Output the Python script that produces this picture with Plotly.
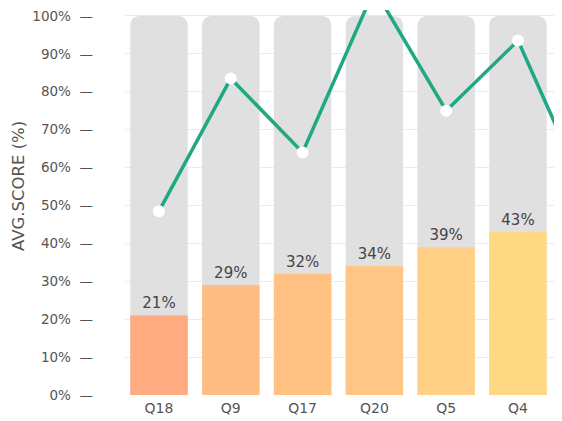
import plotly.graph_objects as go

categories = ["Q18", "Q9", "Q17", "Q20", "Q5", "Q4", "Q3"]
bar_values = [21, 29, 32, 34, 39, 43, 45]
line_values = [48.5, 83.5, 64, 107, 75, 93.5, 51]
bar_colors = ["#FFAA80", "#FFBD84", "#FFC283", "#FFC686", "#FFD085", "#FFD884", "#FFDA85"]
background_values = [100] * len(categories)
y_tick_vals = list(range(0, 101, 10))
y_tick_text = [f"{v}%" for v in y_tick_vals]
y_title = "AVG.SCORE (%)"

idx = list(range(len(categories)))
FONT = "DejaVu Sans"

fig = go.Figure()
fig.add_trace(go.Bar(
    x=idx, y=background_values, width=0.8,
    marker=dict(color="#E0E0E0", cornerradius=9, line=dict(width=0)),
    hoverinfo="skip", showlegend=False,
))
fig.add_trace(go.Bar(
    x=idx, y=bar_values, width=0.8,
    marker=dict(color=bar_colors, line=dict(width=0)),
    text=[f"{v}%" for v in bar_values], textposition="outside",
    textfont=dict(family=FONT, size=15, color="#444444"),
    cliponaxis=False, showlegend=False,
))
fig.add_trace(go.Scatter(
    x=idx, y=line_values, mode="lines+markers",
    line=dict(color="#1FA883", width=3.5),
    marker=dict(color="white", size=12, line=dict(width=0)),
    showlegend=False,
))

fig.add_annotation(
    text=y_title, xref="paper", yref="paper", x=-0.245, y=0.5426,
    xanchor="center", yanchor="middle", textangle=-90, showarrow=False,
    font=dict(family=FONT, size=16.5, color="#555555"),
)

fig.update_layout(
    width=554, height=413,
    margin=dict(l=117, r=0, t=0, b=26),
    barmode="overlay",
    plot_bgcolor="white", paper_bgcolor="white",
    font=dict(family=FONT, color="#555555"),
    xaxis=dict(
        range=[-0.4735, 5.613],
        tickmode="array", tickvals=idx, ticktext=categories,
        showgrid=False, zeroline=False, showline=False,
        tickfont=dict(family=FONT, size=14, color="#555555"),
        ticks="", ticklabelstandoff=3,
    ),
    yaxis=dict(
        range=[0, 101.57],
        tickmode="array", tickvals=y_tick_vals,
        ticktext=[t + "\u00a0\u00a0\u2014" for t in y_tick_text],
        showgrid=True, gridcolor="#EBEBEB", gridwidth=1,
        zeroline=False, showline=False,
        tickfont=dict(family=FONT, size=13.5, color="#555555"),
        ticklabelstandoff=31, ticklabeloverflow="allow",
    ),
)

fig.write_html("out.html")
